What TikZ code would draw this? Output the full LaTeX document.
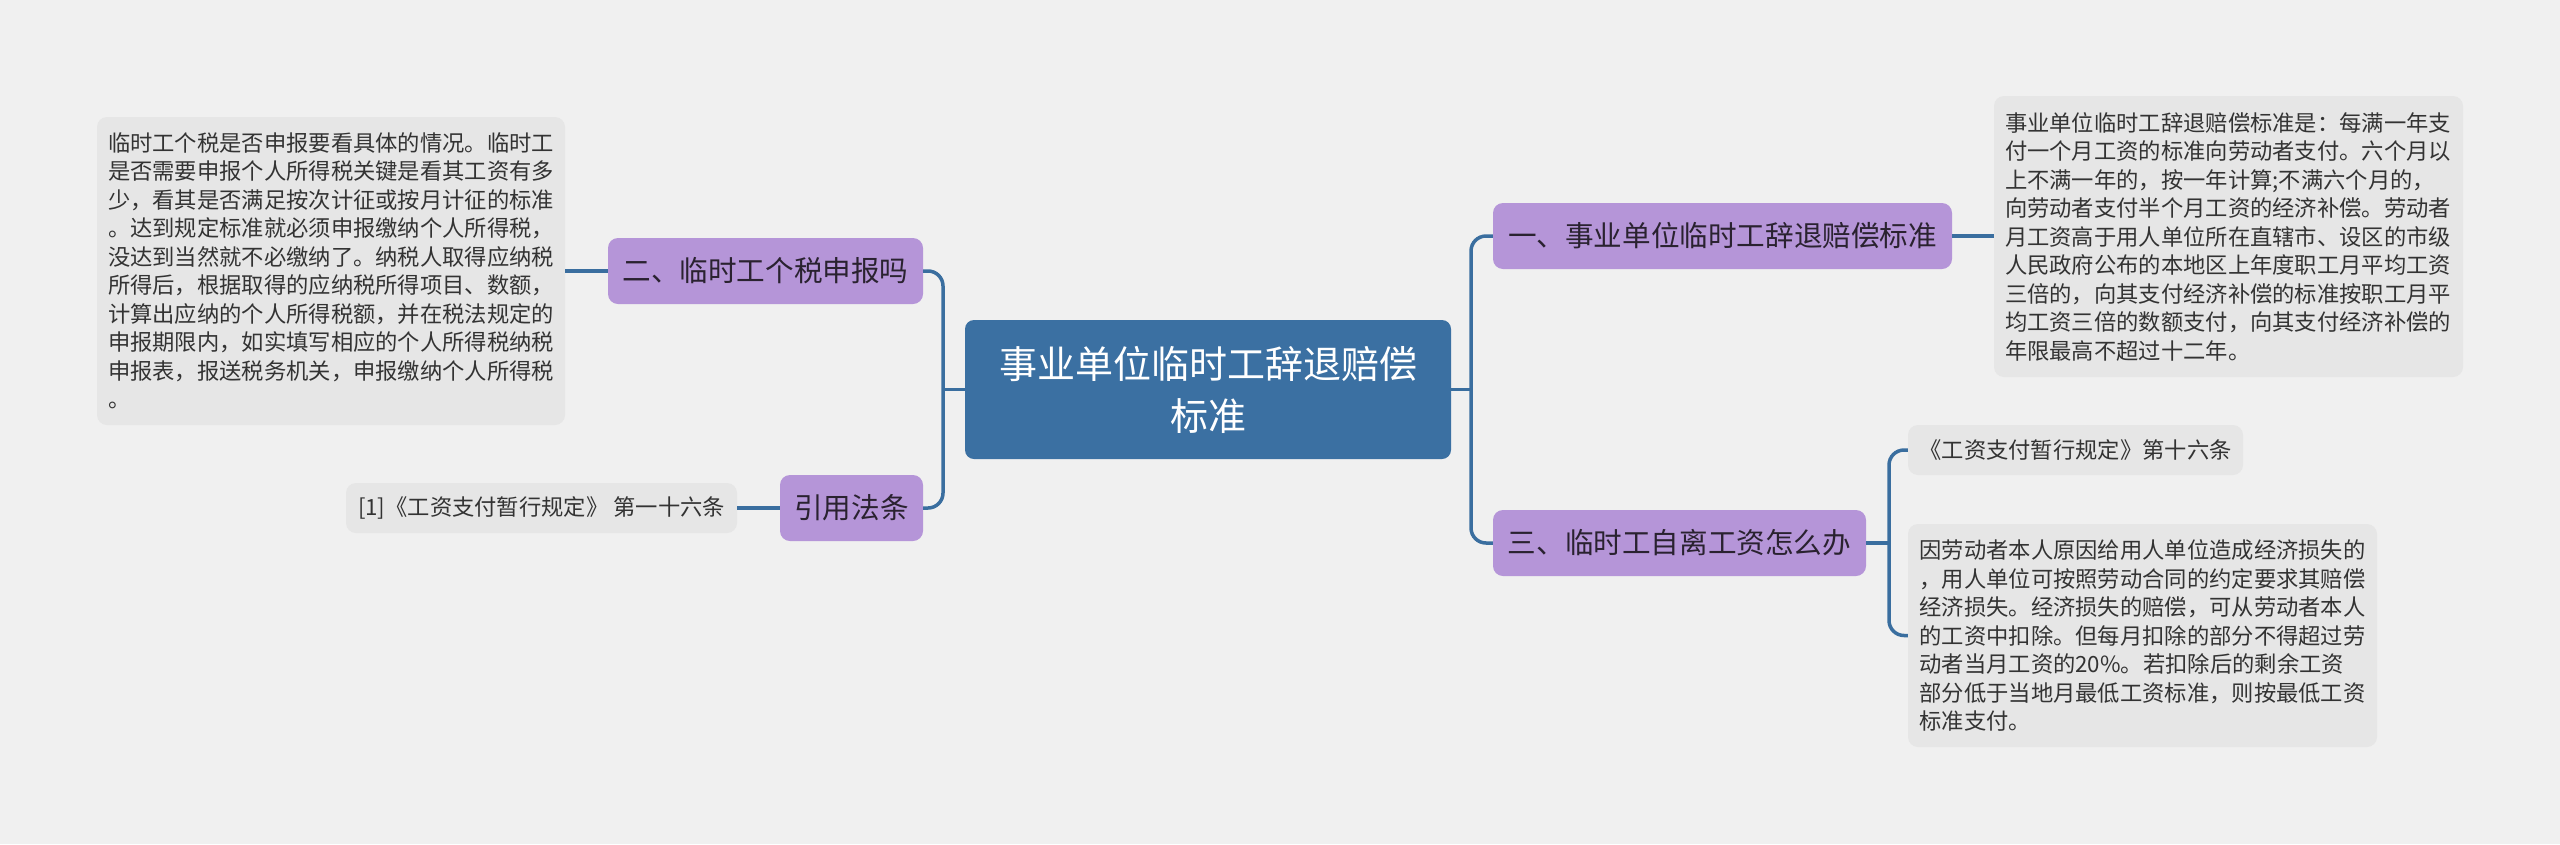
\documentclass[tikz,border=0pt]{standalone}
\usepackage{fontspec}
\newfontfamily\cjk{Noto Sans CJK SC}
\definecolor{bgc}{HTML}{F0F0F0}
\definecolor{rootc}{HTML}{3B70A2}
\definecolor{purp}{HTML}{B595D8}
\definecolor{leafc}{HTML}{E6E6E6}
\definecolor{linec}{HTML}{3A6E9F}
\definecolor{txtc}{HTML}{2A2230}
\definecolor{leaftxt}{HTML}{333333}
\tikzset{
  rootbox/.style={fill=rootc, rounded corners=9pt, inner sep=0pt, align=center, text=white,
    minimum width=486pt, minimum height=139pt, font=\cjk\fontsize{38}{52}\selectfont},
  branchbox/.style={fill=purp, rounded corners=10pt, inner sep=0pt, text=txtc,
    minimum height=66pt, font=\cjk\fontsize{28.6}{34}\selectfont},
  leafbox/.style={fill=leafc, rounded corners=10pt, inner sep=0pt, text=leaftxt,
    font=\cjk\fontsize{22.3}{28.5}\selectfont},
  conn/.style={draw=linec, line width=3.5pt, rounded corners=15pt}
}
\begin{document}
\begin{tikzpicture}[x=1pt,y=-1pt]
\useasboundingbox (0,0) rectangle (2560,844);
\fill[bgc] (0,0) rectangle (2560,844);

% root
\node[rootbox] (root) at (1208,389.5) {事业单位临时工辞退赔偿\\标准};

% branches
\node[branchbox, minimum width=459pt] (yi) at (1722.5,236) {一、事业单位临时工辞退赔偿标准};
\node[branchbox, minimum width=373pt] (san) at (1679.5,543) {三、临时工自离工资怎么办};
\node[branchbox, minimum width=315pt] (er) at (765.5,271) {二、临时工个税申报吗};
\node[branchbox, minimum width=143pt] (yin) at (851.5,508) {引用法条};

% leaves
\node[leafbox, minimum width=468pt, minimum height=308pt, text width=446pt, align=left] (ltext) at (331,271) {%
临时工个税是否申报要看具体的情况。临时工\\
是否需要申报个人所得税关键是看其工资有多\\
少，看其是否满足按次计征或按月计征的标准\\
。达到规定标准就必须申报缴纳个人所得税，\\
没达到当然就不必缴纳了。纳税人取得应纳税\\
所得后，根据取得的应纳税所得项目、数额，\\
计算出应纳的个人所得税额，并在税法规定的\\
申报期限内，如实填写相应的个人所得税纳税\\
申报表，报送税务机关，申报缴纳个人所得税\\
。};

\node[leafbox, minimum width=391pt, minimum height=50pt] (ref) at (541.5,508) {[1]《工资支付暂行规定》 第一十六条};

\node[leafbox, minimum width=469pt, minimum height=281pt, text width=447pt, align=left] (rtext) at (2228.5,236.5) {%
事业单位临时工辞退赔偿标准是：每满一年支\\
付一个月工资的标准向劳动者支付。六个月以\\
上不满一年的，按一年计算;不满六个月的，\\
向劳动者支付半个月工资的经济补偿。劳动者\\
月工资高于用人单位所在直辖市、设区的市级\\
人民政府公布的本地区上年度职工月平均工资\\
三倍的，向其支付经济补偿的标准按职工月平\\
均工资三倍的数额支付，向其支付经济补偿的\\
年限最高不超过十二年。};

\node[leafbox, minimum width=335pt, minimum height=50pt] (law) at (2075.5,450) {《工资支付暂行规定》第十六条};

\node[leafbox, minimum width=469pt, minimum height=223pt, text width=446pt, align=left] (btext) at (2142.5,635.5) {%
因劳动者本人原因给用人单位造成经济损失的\\
，用人单位可按照劳动合同的约定要求其赔偿\\
经济损失。经济损失的赔偿，可从劳动者本人\\
的工资中扣除。但每月扣除的部分不得超过劳\\
动者当月工资的20\%。若扣除后的剩余工资\\
部分低于当地月最低工资标准，则按最低工资\\
标准支付。};

% connector coordinates
\coordinate (rb) at (1471,389.5);
\coordinate (lb) at (943,389.5);
\coordinate (sb) at (1889,543);

% connectors
\draw[conn] (root.east) -- (rb);
\draw[conn] (yi.west) -- (yi.west -| rb) |- (san.west);
\draw[conn] (root.west) -- (lb);
\draw[conn] (er.east) -- (er.east -| lb) |- (yin.east);
\draw[conn] (er.west) -- (ltext.east |- er.west);
\draw[conn] (yin.west) -- (ref.east |- yin.west);
\draw[conn] (yi.east) -- (rtext.west |- yi.east);
\draw[conn] (san.east) -- (sb);
\draw[conn] (law.west) -- (law.west -| sb) |- (btext.west);
\end{tikzpicture}
\end{document}
